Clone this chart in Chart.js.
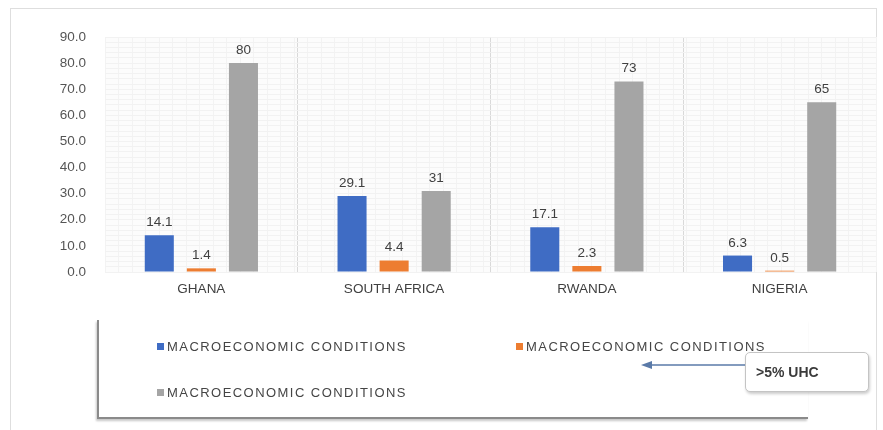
<!DOCTYPE html>
<html>
<head>
<meta charset="utf-8">
<script src="https://cdn.jsdelivr.net/npm/chart.js@4/dist/chart.umd.min.js"></script>
<style>
  html, body { margin: 0; padding: 0; background: #ffffff; }
  #wrap { position: relative; width: 883px; height: 430px; overflow: hidden; font-family: "Liberation Sans", Arial, sans-serif; }
  #frame { position: absolute; left: 10px; top: 8px; width: 867px; height: 440px; border: 1px solid #dedede; box-sizing: border-box; }
  #chart { position: absolute; left: 0; top: 0; }
  #legendBox { position: absolute; left: 97px; top: 320px; width: 711px; height: 99px;
    border-left: 2px solid #8a8a8a; border-bottom: 2px solid #8a8a8a; box-sizing: border-box;
    box-shadow: -1px 2px 2px rgba(0,0,0,0.22); background: #ffffff; }
  .item { position: absolute; font-size: 13px; color: #454545; letter-spacing: 1.45px; white-space: nowrap; line-height: 14px; }
  .sw { display: inline-block; width: 7px; height: 7px; margin-right: 3px; vertical-align: 1px; }
  #note { position: absolute; left: 745px; top: 352px; width: 124px; height: 40px; box-sizing: border-box;
    border: 1px solid #c4c4c4; border-radius: 5px; background: #ffffff; box-shadow: 1px 2px 3px rgba(0,0,0,0.2);
    font-weight: bold; font-size: 14px; color: #3a3a3a; line-height: 38px; padding-left: 10px; }
  #arrow { position: absolute; left: 0; top: 0; }
</style>
</head>
<body>
<div id="wrap">
  <div id="frame"></div>
  <canvas id="chart" width="883" height="430"></canvas>
  <div id="legendBox"></div>
  <svg id="arrow" width="883" height="430">
    <line x1="748" y1="365" x2="650" y2="365" stroke="#5a7aa8" stroke-width="1.5"/>
    <polygon points="641,365 652,361 652,369" fill="#5a7aa8"/>
  </svg>
  <div id="note">&gt;5% UHC</div>
</div>
<script>
// Countries on the category axis
const countries = ["GHANA", "SOUTH AFRICA", "RWANDA", "NIGERIA"];

// Series values per country
const seriesBlue = [14.1, 29.1, 17.1, 6.3];
const seriesOrange = [1.4, 4.4, 2.3, 0.5];
const seriesGray = [80, 31, 73, 65];

// Legend captions for each series
const seriesNames = ["MACROECONOMIC CONDITIONS", "MACROECONOMIC CONDITIONS", "MACROECONOMIC CONDITIONS"];

// Decimal places used by each series' value labels
const labelDecimals = [1, 1, 0];

// Value axis range
const yMin = 0, yMax = 90, yStep = 10;

const colors = ["#3F6CC4", "#ED7D31", "#A5A5A5"];
const fontFamily = '"Liberation Sans", Arial, sans-serif';

// Legend drawn as HTML inside the legend box
const legendBox = document.getElementById("legendBox");
const legendSpots = [[58, 20], [417, 20], [58, 66]];
seriesNames.forEach((name, i) => {
  const el = document.createElement("div");
  el.className = "item";
  el.style.left = legendSpots[i][0] + "px";
  el.style.top = legendSpots[i][1] + "px";
  el.innerHTML = '<span class="sw" style="background:' + colors[i] + '"></span>' + name;
  legendBox.appendChild(el);
});

// Light plot background
const plotBg = {
  id: "plotBg",
  beforeDraw(chart) {
    const { ctx, chartArea: a } = chart;
    ctx.save();
    ctx.fillStyle = "#fcfcfc";
    ctx.fillRect(a.left, a.top, a.right - a.left, a.bottom - a.top);
    ctx.restore();
  }
};

// Value labels above each bar
const valueLabels = {
  id: "valueLabels",
  afterDatasetsDraw(chart) {
    const ctx = chart.ctx;
    ctx.save();
    ctx.font = "13.5px " + fontFamily;
    ctx.fillStyle = "#404040";
    ctx.textAlign = "center";
    ctx.textBaseline = "bottom";
    chart.data.datasets.forEach((ds, di) => {
      chart.getDatasetMeta(di).data.forEach((bar, i) => {
        ctx.fillText(ds.data[i].toFixed(labelDecimals[di]), bar.x, bar.y - 6);
      });
    });
    ctx.restore();
  }
};

const barOpts = { categoryPercentage: 0.655, barPercentage: 0.69, borderWidth: 0, xAxisID: "x", yAxisID: "y" };

new Chart(document.getElementById("chart"), {
  type: "bar",
  data: {
    labels: countries,
    datasets: [
      Object.assign({ label: seriesNames[0], data: seriesBlue, backgroundColor: colors[0] }, barOpts),
      Object.assign({ label: seriesNames[1], data: seriesOrange, backgroundColor: colors[1] }, barOpts),
      Object.assign({ label: seriesNames[2], data: seriesGray, backgroundColor: colors[2] }, barOpts)
    ]
  },
  options: {
    responsive: false,
    animation: false,
    devicePixelRatio: 1,
    layout: { padding: { top: 37, right: 7, left: 0, bottom: 128 } },
    plugins: { legend: { display: false }, tooltip: { enabled: false } },
    scales: {
      x: {
        grid: { color: "#d9d9d9", drawTicks: false, offset: true },
        border: { display: false },
        ticks: { color: "#404040", padding: 9, font: { size: 13.5, family: fontFamily } },
        afterFit(s) { s.height = 30; }
      },
      y: {
        min: yMin, max: yMax,
        grid: { color: "#dadada", drawTicks: false },
        border: { display: false },
        ticks: {
          stepSize: yStep, padding: 19, color: "#555555",
          font: { size: 13.5, family: fontFamily },
          callback: v => Number(v).toFixed(1)
        },
        afterFit(s) { s.width = 105; }
      },
      xMinor: {
        type: "linear", position: "bottom", min: 0, max: 56,
        ticks: { display: false, stepSize: 1 },
        grid: { color: "#f3f3f3", drawTicks: false },
        border: { display: false },
        afterFit(s) { s.height = 0; }
      },
      yMinor: {
        type: "linear", position: "left", min: yMin, max: yMax,
        ticks: { display: false, stepSize: 2 },
        grid: { color: "#f2f2f2", drawTicks: false },
        border: { display: false },
        afterFit(s) { s.width = 0; }
      }
    }
  },
  plugins: [plotBg, valueLabels]
});
</script>
</body>
</html>
